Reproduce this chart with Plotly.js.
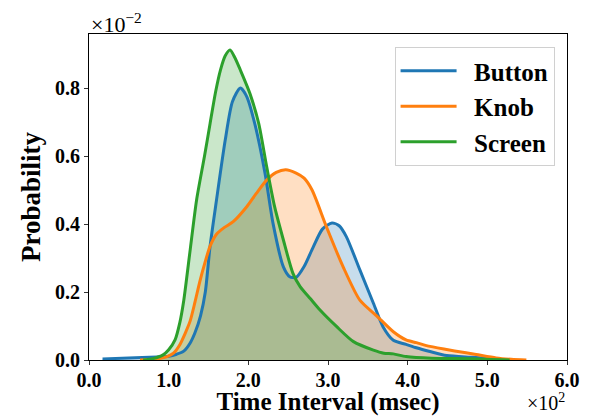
<!DOCTYPE html>
<html>
<head>
<meta charset="utf-8">
<script src="https://cdn.plot.ly/plotly-3.0.1.min.js"></script>
<style>html,body{margin:0;padding:0;background:#fff;}#chart{width:592px;height:416px;}</style>
</head>
<body>
<div id="chart"></div>
<script>
// x in units of 10^2 msec, y in units of 10^-2 probability
const seriesNames = ["Button", "Knob", "Screen"];
const buttonX = [0.17, 0.5, 0.85, 1.0, 1.1, 1.19, 1.27, 1.33, 1.40, 1.46, 1.52, 1.60, 1.71, 1.80, 1.90, 1.98, 2.08, 2.21, 2.31, 2.44, 2.52, 2.60, 2.70, 2.81, 2.93, 3.05, 3.14, 3.23, 3.40, 3.57, 3.69, 3.82, 3.98, 4.11, 4.28, 4.49, 4.82, 5.05, 5.24];
const buttonY = [0.003, 0.006, 0.009, 0.011, 0.017, 0.026, 0.05, 0.08, 0.13, 0.20, 0.335, 0.47, 0.647, 0.76, 0.80, 0.775, 0.696, 0.549, 0.402, 0.274, 0.245, 0.243, 0.275, 0.33, 0.385, 0.403, 0.395, 0.363, 0.265, 0.167, 0.098, 0.058, 0.046, 0.036, 0.025, 0.013, 0.008, 0.004, 0.0];
const knobX = [0.64, 0.85, 0.98, 1.06, 1.14, 1.21, 1.27, 1.33, 1.39, 1.46, 1.52, 1.60, 1.70, 1.81, 1.98, 2.10, 2.23, 2.35, 2.47, 2.60, 2.70, 2.80, 2.98, 3.19, 3.40, 3.61, 3.82, 3.98, 4.11, 4.28, 4.61, 4.86, 5.11, 5.30, 5.49];
const knobY = [0.0, 0.003, 0.01, 0.02, 0.045, 0.08, 0.115, 0.17, 0.23, 0.29, 0.335, 0.37, 0.39, 0.407, 0.451, 0.49, 0.529, 0.552, 0.56, 0.55, 0.535, 0.50, 0.392, 0.274, 0.176, 0.13, 0.083, 0.059, 0.051, 0.040, 0.026, 0.016, 0.006, 0.002, 0.0];
const screenX = [0.68, 0.80, 0.93, 1.00, 1.08, 1.14, 1.19, 1.27, 1.35, 1.45, 1.52, 1.59, 1.65, 1.71, 1.77, 1.83, 1.90, 2.02, 2.13, 2.23, 2.33, 2.44, 2.56, 2.65, 2.78, 2.90, 3.11, 3.32, 3.57, 3.70, 3.82, 3.98, 4.3, 4.8, 5.28];
const screenY = [0.0, 0.004, 0.015, 0.03, 0.059, 0.11, 0.176, 0.324, 0.47, 0.60, 0.696, 0.79, 0.853, 0.895, 0.912, 0.89, 0.853, 0.784, 0.696, 0.569, 0.451, 0.353, 0.255, 0.216, 0.18, 0.147, 0.098, 0.054, 0.029, 0.02, 0.018, 0.01, 0.005, 0.004, 0.0];
const xTickVals = [0, 1, 2, 3, 4, 5, 6];
const yTickVals = [0, 0.2, 0.4, 0.6, 0.8];

const colors = ["#1f77b4", "#ff7f0e", "#2ca02c"];
const fills = ["rgba(31,119,180,0.25)", "rgba(255,127,14,0.25)", "rgba(44,160,44,0.25)"];
const xs = [buttonX, knobX, screenX];
const ys = [buttonY, knobY, screenY];

const serif = "Liberation Serif";
const fillTraces = seriesNames.map((n, i) => ({
  type: "scatter", mode: "lines", name: n, showlegend: false,
  x: xs[i], y: ys[i],
  line: {color: "rgba(0,0,0,0)", width: 0, shape: "spline", smoothing: 0.7},
  fill: "tozeroy", fillcolor: fills[i]
}));
const lineTraces = seriesNames.map((n, i) => ({
  type: "scatter", mode: "lines", name: "\u2002" + n,
  x: xs[i], y: ys[i],
  line: {color: colors[i], width: 3, shape: "spline", smoothing: 0.7}
}));

const layout = {
  width: 592, height: 416,
  margin: {l: 89, r: 25, t: 34, b: 56},
  paper_bgcolor: "#fff", plot_bgcolor: "#fff",
  font: {family: serif, color: "#000"},
  showlegend: true,
  legend: {
    x: 0.974, y: 0.96, xanchor: "right", yanchor: "top",
    bgcolor: "rgba(255,255,255,0.8)", bordercolor: "#d0d0d0", borderwidth: 1,
    font: {family: serif, size: 25, weight: "bold", color: "#000"},
    itemwidth: 56
  },
  xaxis: {
    range: [0, 6], tickvals: xTickVals, tickformat: ".1f",
    showgrid: false, zeroline: false,
    showline: true, mirror: true, linecolor: "#000", linewidth: 1,
    ticks: "outside", ticklen: 4, tickcolor: "#333", ticklabelstandoff: -2,
    tickfont: {family: serif, size: 20, weight: "bold"},
    title: {text: "Time Interval (msec)", font: {family: serif, size: 25, weight: "bold"}, standoff: 0}
  },
  yaxis: {
    range: [0, 0.959], tickvals: yTickVals, tickformat: ".1f",
    showgrid: false, zeroline: false,
    showline: true, mirror: true, linecolor: "#000", linewidth: 1,
    ticks: "outside", ticklen: 4, tickcolor: "#333",
    tickfont: {family: serif, size: 20, weight: "bold"},
    title: {text: "Probability", font: {family: serif, size: 27, weight: "bold"}, standoff: 6}
  },
  annotations: [
    {xref: "paper", yref: "paper", x: 0, y: 1, xanchor: "left", yanchor: "bottom", showarrow: false,
     text: "×10<sup>−2</sup>", font: {family: serif, size: 22}, yshift: -5},
    {xref: "paper", yref: "paper", x: 1, y: 0, xanchor: "right", yanchor: "top", showarrow: false,
     text: "×10<sup>2</sup>", font: {family: serif, size: 20}, yshift: -28}
  ]
};
Plotly.newPlot("chart", fillTraces.concat(lineTraces), layout, {staticPlot: true, displayModeBar: false});
</script>
</body>
</html>
